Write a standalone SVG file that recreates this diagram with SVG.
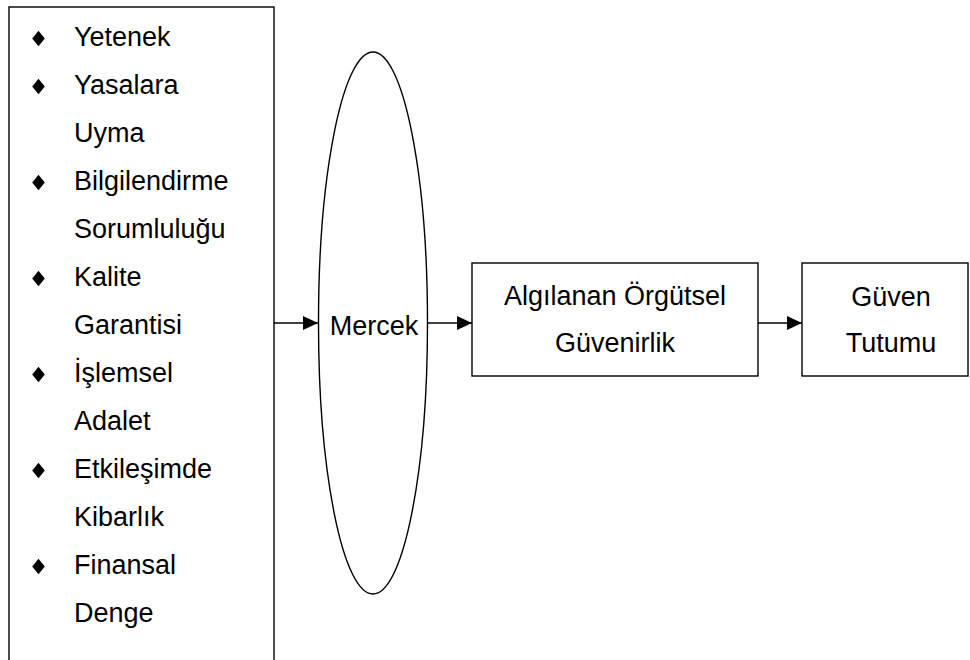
<svg xmlns="http://www.w3.org/2000/svg" width="970" height="660" viewBox="0 0 970 660">
  <style>
    .frame { fill: #ffffff; stroke: #000000; stroke-width: 1.4; }
    .lbl { font-family: "Liberation Sans", Arial, sans-serif; font-size: 27px; fill: #000000; }
    .mid { text-anchor: middle; }
    .link { stroke: #000000; stroke-width: 1.4; fill: none; }
    .dot { fill: #000000; }
  </style>
  <defs>
    <marker id="head" markerWidth="15" markerHeight="14" refX="15" refY="7" orient="auto" markerUnits="userSpaceOnUse">
      <path d="M0,0 L15,7 L0,14 Z" fill="#000000"/>
    </marker>
    <polygon id="bullet" points="0,-7.7 6.3,0 0,7.7 -6.3,0"/>
  </defs>
  <rect width="970" height="660" fill="#ffffff"/>

  <!-- factor list -->
  <g id="factors">
    <rect class="frame" x="9" y="7" width="265" height="670"/>
    <g class="dot">
      <use href="#bullet" x="38.5" y="38.5"/>
      <use href="#bullet" x="38.5" y="86.5"/>
      <use href="#bullet" x="38.5" y="182.5"/>
      <use href="#bullet" x="38.5" y="278.5"/>
      <use href="#bullet" x="38.5" y="374.5"/>
      <use href="#bullet" x="38.5" y="470.5"/>
      <use href="#bullet" x="38.5" y="566.5"/>
    </g>
    <text class="lbl" x="74" y="46">Yetenek</text>
    <text class="lbl" x="74" y="94">Yasalara</text>
    <text class="lbl" x="74" y="142">Uyma</text>
    <text class="lbl" x="74" y="190">Bilgilendirme</text>
    <text class="lbl" x="74" y="238">Sorumluluğu</text>
    <text class="lbl" x="74" y="286">Kalite</text>
    <text class="lbl" x="74" y="334">Garantisi</text>
    <text class="lbl" x="74" y="382">İşlemsel</text>
    <text class="lbl" x="74" y="430">Adalet</text>
    <text class="lbl" x="74" y="478">Etkileşimde</text>
    <text class="lbl" x="74" y="526">Kibarlık</text>
    <text class="lbl" x="74" y="574">Finansal</text>
    <text class="lbl" x="74" y="622">Denge</text>
  </g>

  <!-- lens -->
  <g id="lens">
    <ellipse class="frame" cx="373" cy="323" rx="54.5" ry="271"/>
    <text class="lbl mid" x="374" y="335">Mercek</text>
  </g>

  <!-- perceived trustworthiness -->
  <g id="trustworthiness">
    <rect class="frame" x="472" y="263" width="286" height="113"/>
    <text class="lbl mid" x="615" y="305">Algılanan Örgütsel</text>
    <text class="lbl mid" x="615" y="352">Güvenirlik</text>
  </g>

  <!-- trust attitude -->
  <g id="attitude">
    <rect class="frame" x="802" y="263" width="166" height="113"/>
    <text class="lbl mid" x="891" y="306">Güven</text>
    <text class="lbl mid" x="891" y="352">Tutumu</text>
  </g>

  <!-- connectors -->
  <g id="connectors">
    <line class="link" x1="274" y1="323" x2="318" y2="323" marker-end="url(#head)"/>
    <line class="link" x1="427.5" y1="323" x2="472" y2="323" marker-end="url(#head)"/>
    <line class="link" x1="758" y1="323" x2="802" y2="323" marker-end="url(#head)"/>
  </g>
</svg>
